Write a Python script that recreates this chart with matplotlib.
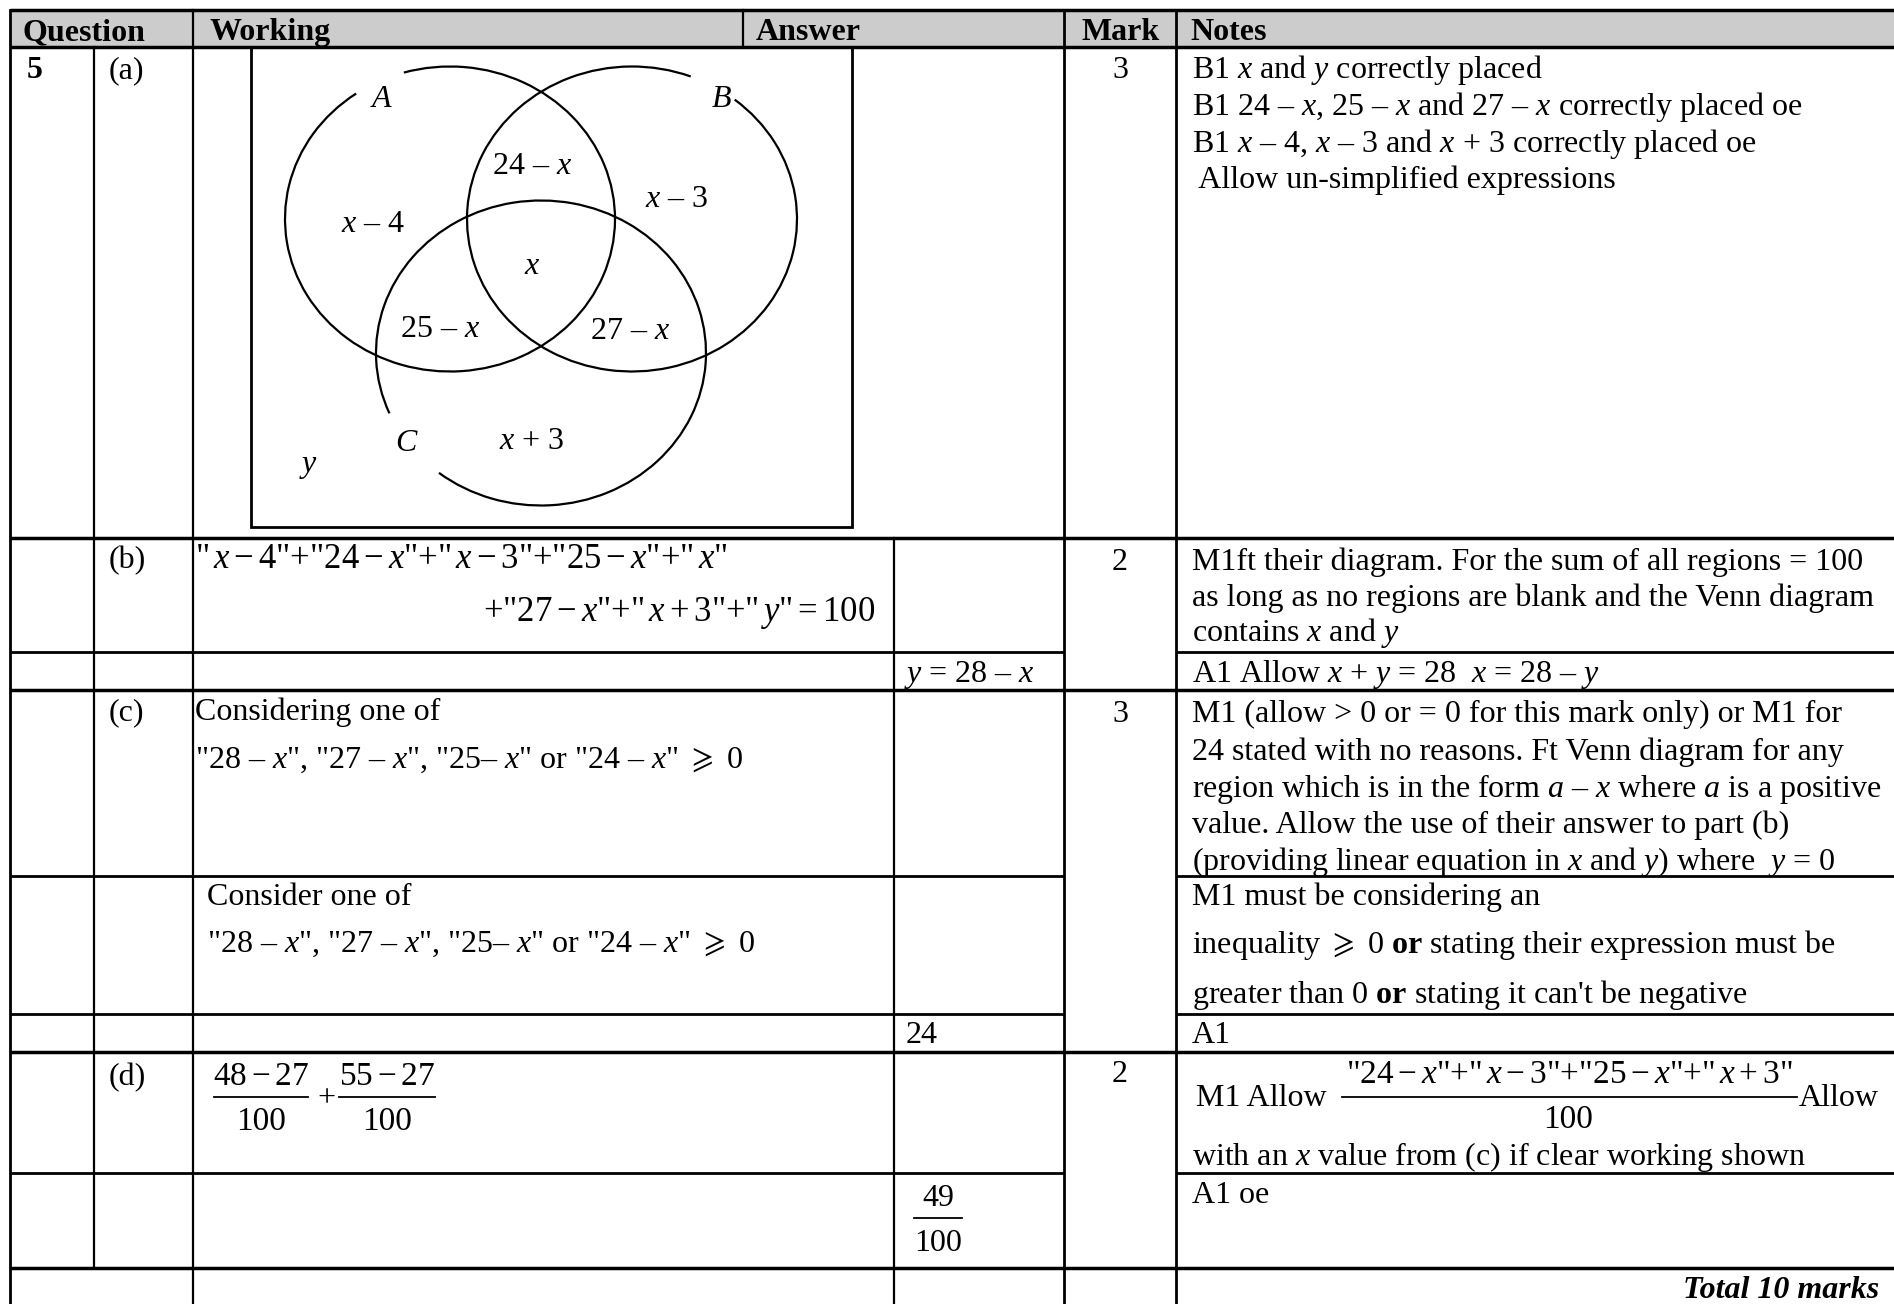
import matplotlib
matplotlib.use("Agg")
import matplotlib.pyplot as plt
from matplotlib.patches import Arc, Rectangle

plt.rcParams["font.family"] = ["Liberation Serif", "DejaVu Serif"]
plt.rcParams["mathtext.fontset"] = "custom"
plt.rcParams["mathtext.rm"] = "Liberation Serif"
plt.rcParams["mathtext.it"] = "Liberation Serif:italic"
plt.rcParams["mathtext.bf"] = "Liberation Serif:bold"
plt.rcParams["mathtext.fallback"] = "stix"

# ---- table content ----
headers = ["Question", "Working", "Answer", "Mark", "Notes"]
question_no = "5"
parts = ["(a)", "(b)", "(c)", "(d)"]
marks = ["3", "2", "3", "2"]
total_text = "Total 10 marks"

venn_sets = ["A", "B", "C"]
venn_regions = ["$x$ – 4", "24 – $x$", "$x$ – 3", "$x$", "25 – $x$", "27 – $x$", "$x$ + 3", "$y$"]

working_b = [r'"$\,x-4$"+"$24-x$"+"$\,x-3$"+"$25-x$"+"$\,x$"',
             r'+"$27-x$"+"$\,x+3$"+"$\,y$"$=100$']
working_c1 = ['Considering one of',
              r'"28 – $x$", "27 – $x$", "25– $x$" or "24 – $x$" $\geqslant$ 0']
working_c2 = ['Consider one of',
              r'"28 – $x$", "27 – $x$", "25– $x$" or "24 – $x$" $\geqslant$ 0']
working_d = [("$48-27$", "100"), ("$55-27$", "100")]

answers = ["$y$ = 28 – $x$", "24", ("49", "100")]

notes_a = ["B1 $x$ and $y$ correctly placed",
           "B1 24 – $x$, 25 – $x$ and 27 – $x$ correctly placed oe",
           "B1 $x$ – 4, $x$ – 3 and $x$ + 3 correctly placed oe",
           " Allow un-simplified expressions"]
notes_b1 = ["M1ft their diagram. For the sum of all regions = 100",
            "as long as no regions are blank and the Venn diagram",
            "contains $x$ and $y$"]
notes_b2 = ["A1 Allow $x$ + $y$ = 28  $x$ = 28 – $y$"]
notes_c1 = ["M1 (allow > 0 or = 0 for this mark only) or M1 for",
            "24 stated with no reasons. Ft Venn diagram for any",
            "region which is in the form $a$ – $x$ where $a$ is a positive",
            "value. Allow the use of their answer to part (b)",
            "(providing linear equation in $x$ and $y$) where  $y$ = 0"]
notes_c2 = ["M1 must be considering an",
            r"inequality $\geqslant$ 0 $\mathbf{or}$ stating their expression must be",
            r"greater than 0 $\mathbf{or}$ stating it can't be negative"]
notes_c3 = ["A1"]
notes_d1 = ("M1 Allow", r'"$24-x$"+"$\,x-3$"+"$25-x$"+"$\,x+3$"', "100", "Allow",
            "with an $x$ value from (c) if clear working shown")
notes_d2 = ["A1 oe"]

# ---- layout (pixel grid) ----
W, H = 1894, 1304
FS = 23
x_left, x_q, x_work, x_hdr_ans, x_ans, x_mark, x_notes, x_right = 10, 94, 193, 743, 894, 1064, 1176, 1894
y_top, y_hdr = 10, 47
row_y = [538, 652, 690, 876, 1014, 1052, 1173, 1268]
no_mark_rows = {652, 876, 1014, 1173}

fig = plt.figure(figsize=(W / 100, H / 100), dpi=100)
ax = fig.add_axes([0, 0, 1, 1])
ax.set_xlim(0, W)
ax.set_ylim(H, 0)
ax.axis("off")

lw = 2.0
ax.add_patch(Rectangle((x_left, y_top), x_right - x_left, y_hdr - y_top, facecolor="#cccccc", edgecolor="none"))

# horizontal rules
for y in [y_top, y_hdr]:
    ax.plot([x_left, x_right], [y, y], color="black", lw=lw + 0.5, solid_capstyle="butt")
for y in row_y:
    if y in no_mark_rows:
        ax.plot([x_left, x_mark], [y, y], color="black", lw=lw, solid_capstyle="butt")
        ax.plot([x_notes, x_right], [y, y], color="black", lw=lw, solid_capstyle="butt")
    else:
        ax.plot([x_left, x_right], [y, y], color="black", lw=lw + 0.5, solid_capstyle="butt")

# vertical rules
ax.plot([x_left, x_left], [y_top, H], color="black", lw=lw)
ax.plot([x_q, x_q], [y_hdr, row_y[-1]], color="black", lw=lw * 0.8)
ax.plot([x_work, x_work], [y_top, H], color="black", lw=lw * 0.8)
ax.plot([x_hdr_ans, x_hdr_ans], [y_top, y_hdr], color="black", lw=lw * 0.8)
ax.plot([x_ans, x_ans], [row_y[0], H], color="black", lw=lw * 0.8)
ax.plot([x_mark, x_mark], [y_top, H], color="black", lw=lw)
ax.plot([x_notes, x_notes], [y_top, H], color="black", lw=lw)


def txt(x, y, s, ha="left", **kw):
    ax.text(x, y, s, ha=ha, va="baseline", fontsize=kw.pop("fs", FS), **kw)


def lines(x, ys, items, **kw):
    for y, s in zip(ys, items):
        txt(x, y, s, **kw)


def frac(cx, y_bar, num, den, half, fs=FS):
    ax.plot([cx - half, cx + half], [y_bar, y_bar], color="black", lw=1.3)
    txt(cx, y_bar - 12, num, ha="center", fs=fs)
    txt(cx, y_bar + 33, den, ha="center", fs=fs)


# header
for s, x in zip(headers, [22, 209, 756, 1082, 1190]):
    txt(x, 40, s, fontweight="bold")

# question column
txt(27, 78, question_no, fontweight="bold")
for s, y in zip(parts, [78, 568, 720, 1085]):
    txt(109, y, s)
for s, y in zip(marks, [78, 570, 722, 1082]):
    txt(1120, y, s, ha="center")

# Venn diagram
ax.add_patch(Rectangle((251, y_hdr), 601, 480, facecolor="none", edgecolor="black", lw=2.0))
circles = [((450, 219), (107.5, 126.8)), ((632, 219), (49.3, 67.6)), ((541, 353), (201.7, 229.6))]
for (c, gap) in circles:
    ax.add_patch(Arc(c, 330, 305, theta1=-gap[0], theta2=360 - gap[1], color="black", lw=1.6))
for s, (x, y) in zip(venn_sets, [(381, 107), (721, 107), (406, 451)]):
    txt(x, y, s, ha="center", style="italic")
venn_pos = [(373, 232), (532, 174), (677, 207), (532, 274), (440, 337), (630, 339), (532, 449), (308, 472)]
for s, (x, y) in zip(venn_regions, venn_pos):
    txt(x, y, s, ha="center")

# working column
txt(195, 568, working_b[0], fs=25)
txt(875, 621, working_b[1], ha="right", fs=25)
lines(195, [720, 768], working_c1)
lines(207, [905, 952], working_c2)
frac(261, 1097, working_d[0][0], working_d[0][1], 47, fs=24)
txt(326, 1106, "+", ha="center")
frac(387, 1097, working_d[1][0], working_d[1][1], 48, fs=24)

# answer column
txt(904, 682, answers[0])
txt(906, 1043, answers[1])
frac(938, 1218, answers[2][0], answers[2][1], 24)

# notes column
xn = 1192
lines(xn, [78, 115, 152, 188], notes_a)
lines(xn, [570, 606, 641], notes_b1)
lines(xn, [682], notes_b2)
lines(xn, [722, 760, 797, 833, 870], notes_c1)
lines(xn, [905, 953, 1003], notes_c2)
lines(xn, [1043], notes_c3)
txt(1196, 1106, notes_d1[0])
ax.plot([1342, 1797], [1097, 1097], color="black", lw=1.3)
txt(1569, 1083, notes_d1[1], ha="center", fs=24)
txt(1568, 1128, notes_d1[2], ha="center", fs=24)
txt(1799, 1106, notes_d1[3])
txt(xn, 1165, notes_d1[4])
lines(xn, [1203], notes_d2)

txt(1879, 1298, total_text, ha="right", fontweight="bold", style="italic")

fig.savefig("out.png", dpi=100)
